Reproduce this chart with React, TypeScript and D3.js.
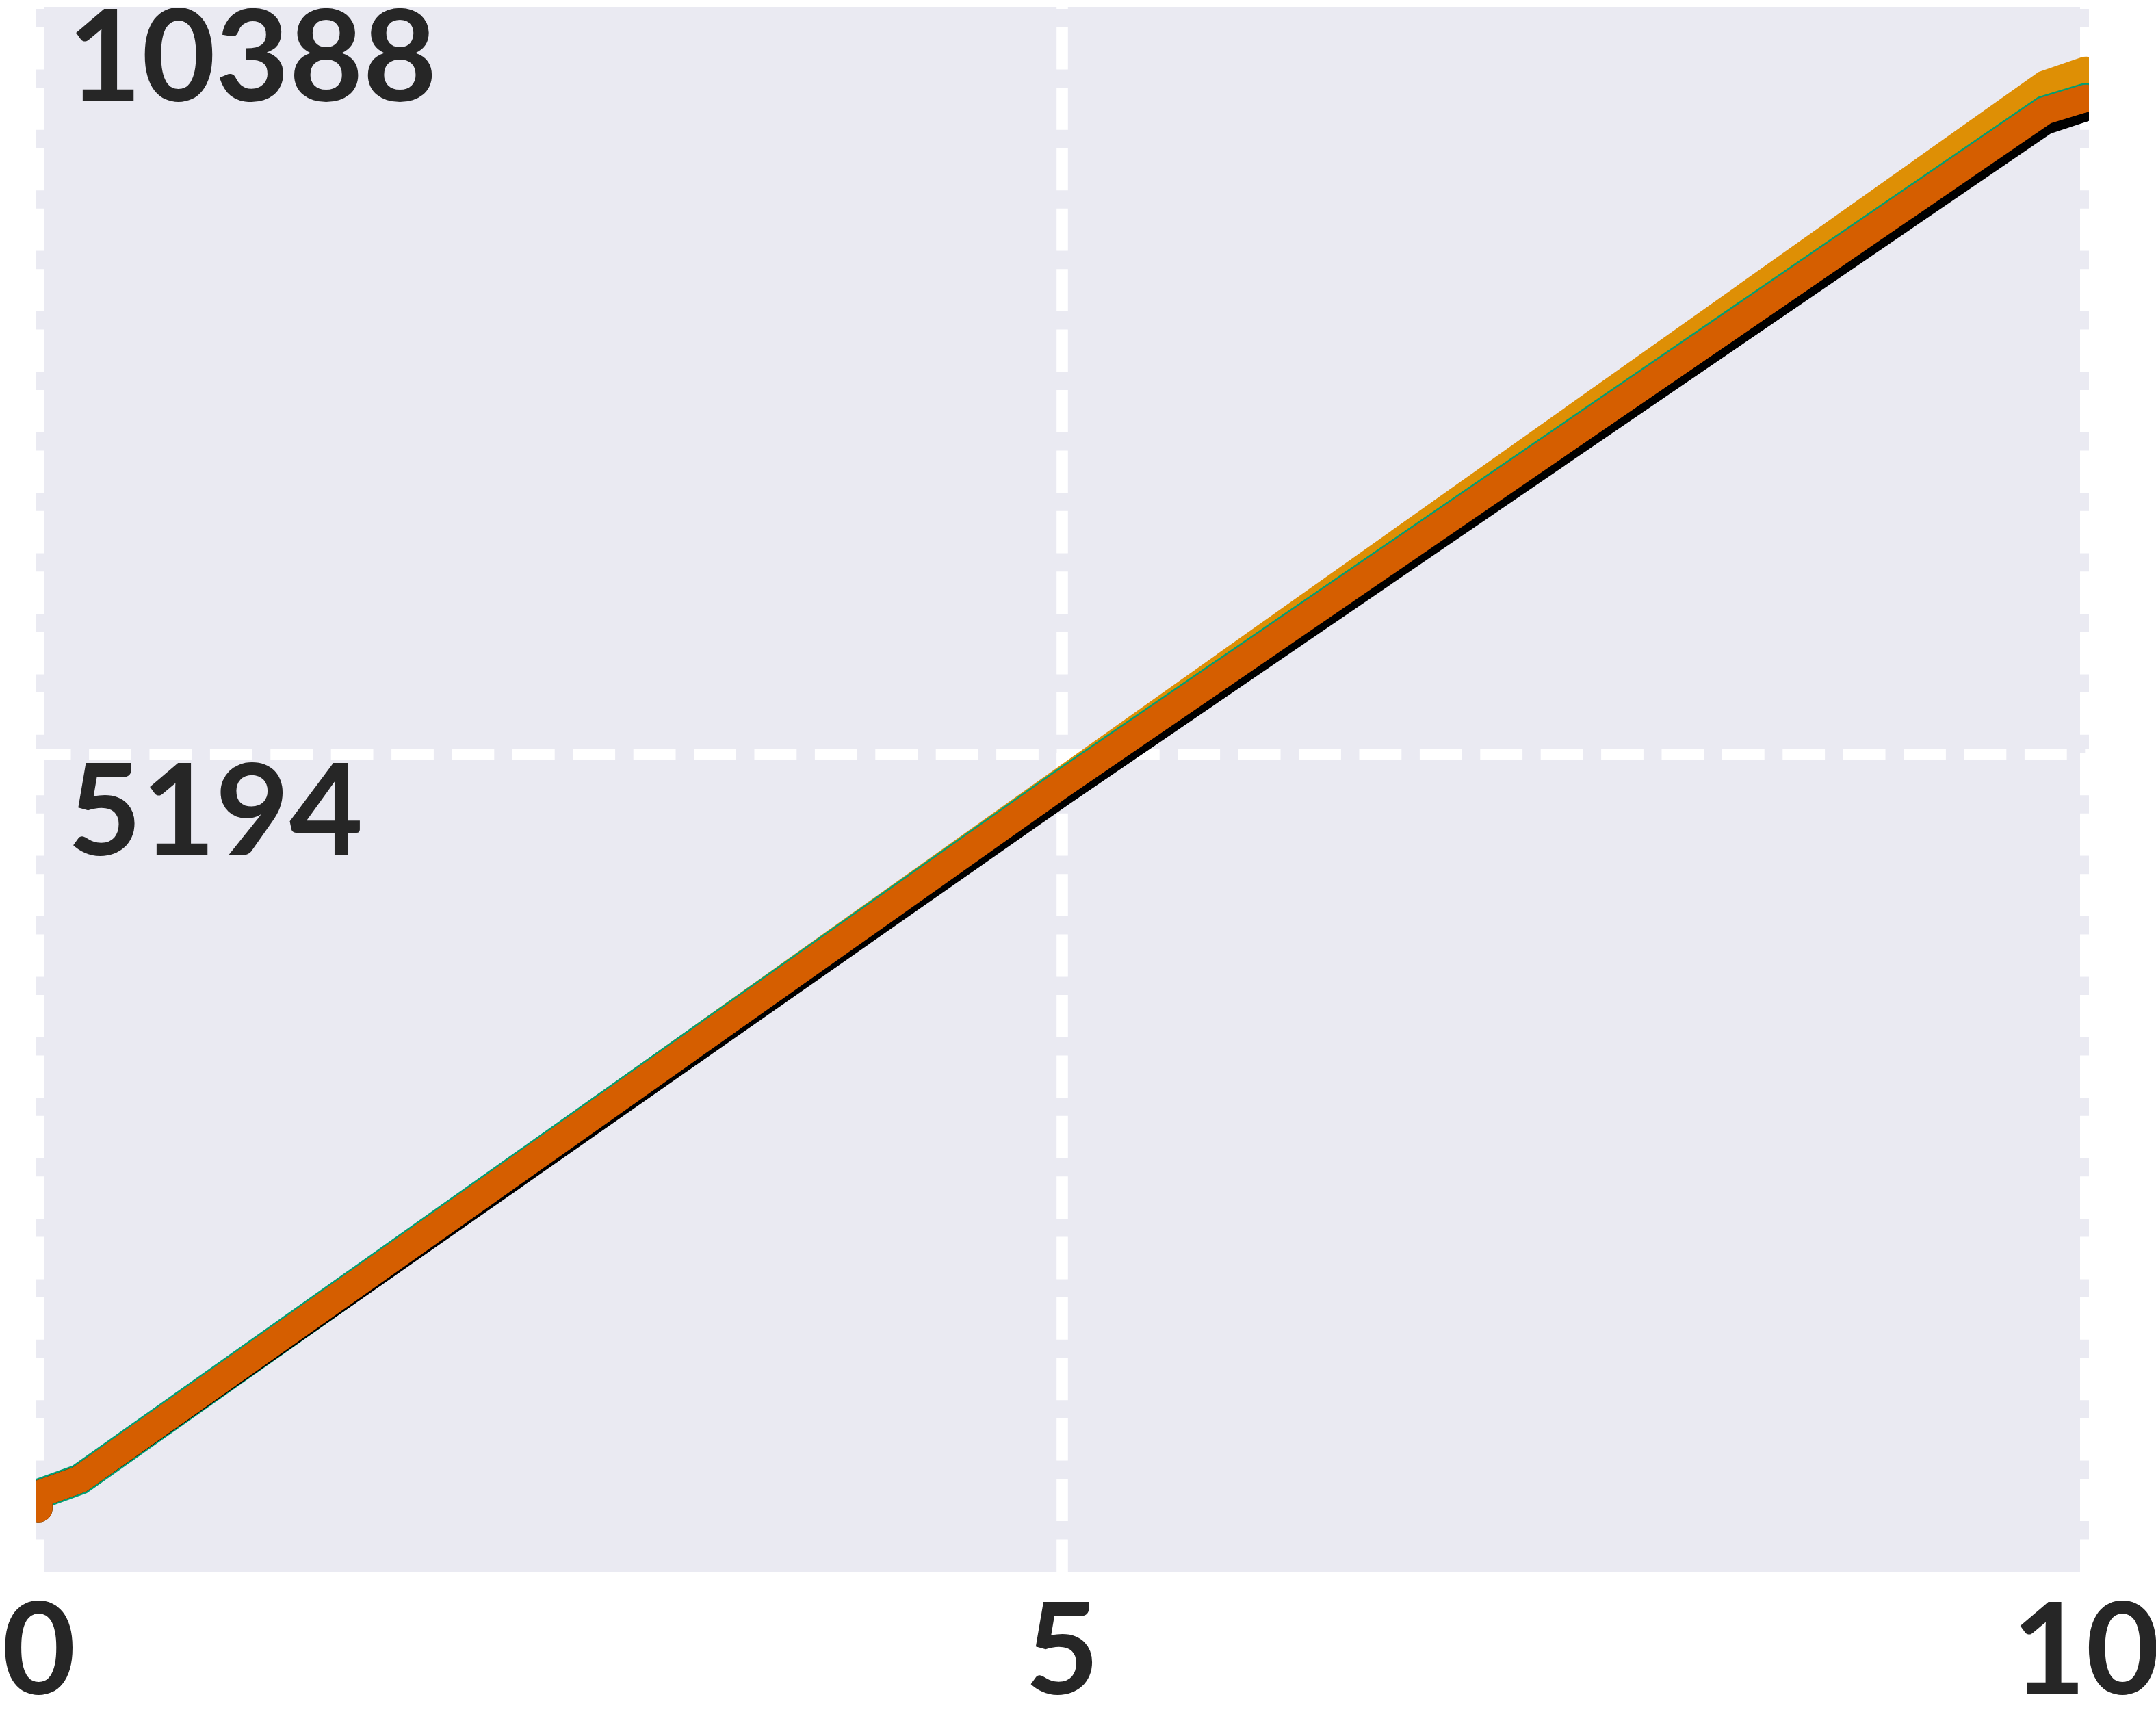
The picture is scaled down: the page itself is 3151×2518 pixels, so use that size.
import * as d3 from 'd3';
import { useEffect } from 'react';

// data (the lines jump straight up at x = 0)
const xValues = [0, 0, 0.2, 5, 9.8, 10];
const orangeValues = [0, 99, 201, 5012, 9807, 9904];
const greenValues = [99, 99, 201, 4988, 9625, 9711];
const blackValues = [0, 99, 201, 4932, 9554, 9647];
const redValues = [0, 99, 201, 4988, 9625, 9711];
const xTicks = [0, 5, 10];
const yTicks = [5194, 10388];

const width = 3151;
const height = 2518;
const plot = { left: 52, right: 3053, top: 10, bottom: 2298 };

export default function App() {
    useEffect(() => {
        document.body.style.margin = '0';
    }, []);

    const xScale = d3.scaleLinear().domain([0, 10]).range([56.7, 3048.3]);
    const yScale = d3.scaleLinear().domain([0, 10388]).range([2204.6, 0]);

    const line = d3
        .line<number>()
        .x((d, i) => xScale(xValues[i]))
        .y(d => yScale(d));

    // drawn bottom to top
    const series = [
        { values: orangeValues, color: '#DE8F05', w: 40 },
        { values: greenValues, color: '#029E73', w: 45 },
        { values: blackValues, color: '#000000', w: 40 },
        { values: redValues, color: '#D55E00', w: 40 }
    ];

    const font = { fontFamily: 'Lato', fontWeight: 700, fontSize: 186, fill: '#262626' };

    return (
        <svg width={width} height={height} style={{ display: 'block', background: '#fff' }}>
            <defs>
                <clipPath id="axclip">
                    <rect x={plot.left} y={plot.top} width={plot.right - plot.left} height={plot.bottom - plot.top} />
                </clipPath>
            </defs>
            <rect x={plot.left} y={plot.top} width={plot.right - plot.left} height={plot.bottom - plot.top} fill="#EAEAF2" />
            <g clipPath="url(#axclip)">
                {xTicks.map(t => (
                    <line key={'gx' + t} x1={xScale(t)} x2={xScale(t)} y1={-48.8} y2={2400}
                        stroke="#fff" strokeWidth={16.6} strokeDasharray="61.8 26.6" />
                ))}
                {yTicks.map(t => (
                    <line key={'gy' + t} x1={-46.7} x2={3200} y1={yScale(t)} y2={yScale(t)}
                        stroke="#fff" strokeWidth={16.6} strokeDasharray="61.8 26.6" />
                ))}
                {series.map((s, i) => (
                    <path key={i} d={line(s.values) || ''} fill="none" stroke={s.color} strokeWidth={s.w}
                        strokeLinecap="round" strokeLinejoin="miter" />
                ))}
            </g>
            {yTicks.map(t => (
                <text key={'ly' + t} x={99} y={yScale(t) + 148} textAnchor="start" style={font}>{t}</text>
            ))}
            {xTicks.map(t => (
                <text key={'lx' + t} x={xScale(t)} y={2476} textAnchor="middle" style={font}>{t}</text>
            ))}
        </svg>
    );
}
